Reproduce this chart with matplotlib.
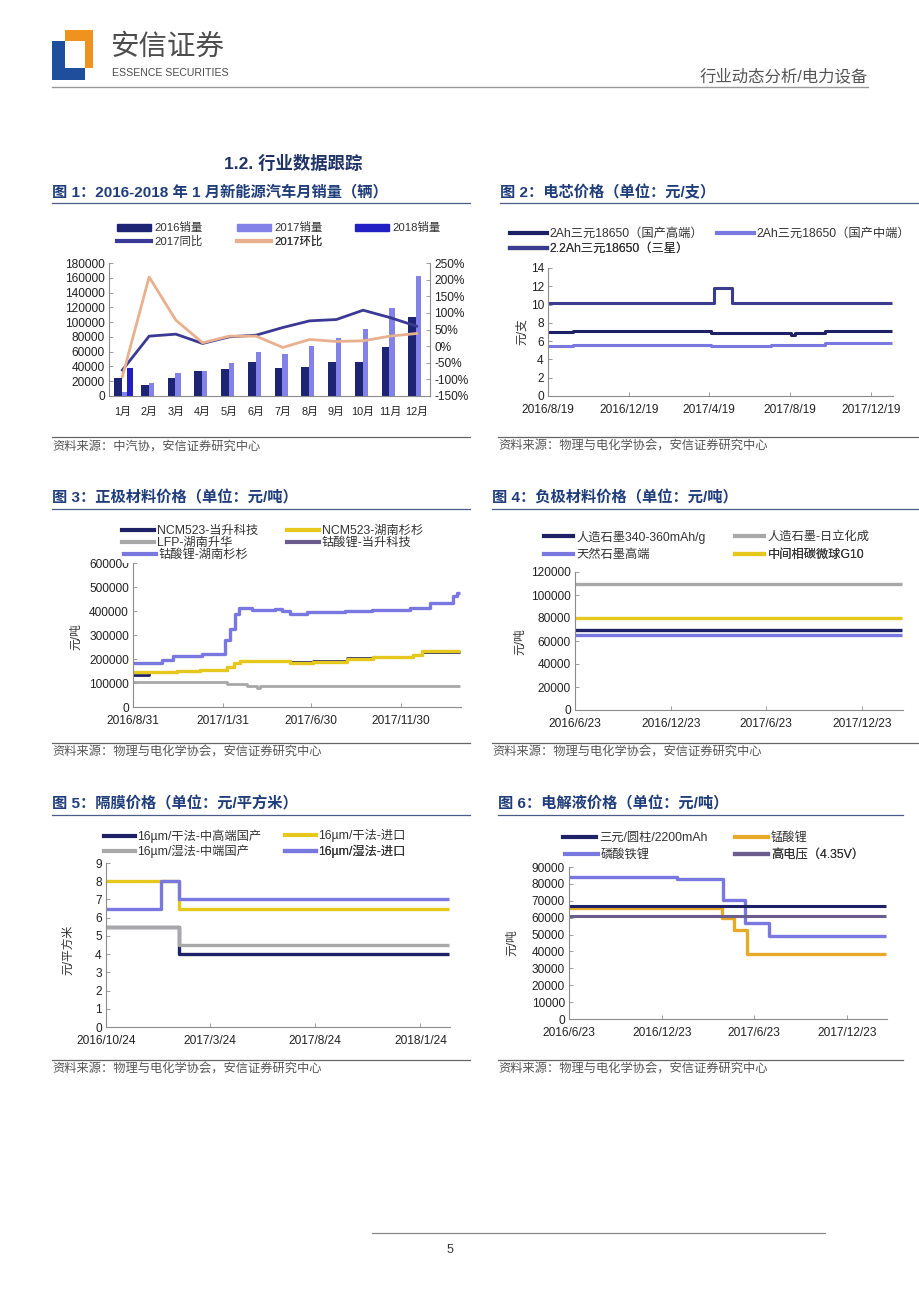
import matplotlib
matplotlib.use("Agg")
import matplotlib.pyplot as plt
import matplotlib.patches as mpatches
from matplotlib.lines import Line2D
import numpy as np
import pandas as pd

plt.rcParams['font.family'] = ['Liberation Sans', 'Noto Sans CJK SC', 'DejaVu Sans']
plt.rcParams['axes.unicode_minus'] = False

W, H = 920, 1302

# ============= data ==================
# 图1 新能源汽车月销量
months = ['1月', '2月', '3月', '4月', '5月', '6月', '7月', '8月', '9月', '10月', '11月', '12月']
sales_2016 = [23800, 14800, 24300, 33300, 36400, 45400, 37300, 39600, 45400, 45400, 66600, 106600]
sales_2017 = [5000, 17500, 31000, 34200, 45000, 59000, 56200, 68000, 78700, 90900, 119200, 162900]
sales_2018 = [38200]
yoy_2017 = [-72, 30, 36, 8, 28, 33, 56, 76, 80, 108, 86, 60]
mom_2017 = [-92, 208, 78, 10, 30, 30, -4, 20, 14, 16, 30, 38]

# 图2 电芯价格
cell_hi_dates = ['2016-08-19', '2016-09-26', '2017-04-22', '2017-08-20', '2017-08-26', '2017-10-11', '2018-01-20']
cell_hi = [6.95, 7.1, 6.88, 6.7, 6.88, 7.1, 7.1]
cell_mid_dates = ['2016-08-19', '2016-09-26', '2017-04-22', '2017-07-21', '2017-10-11', '2018-01-20']
cell_mid = [5.5, 5.6, 5.5, 5.6, 5.8, 5.8]
cell_sam_dates = ['2016-08-19', '2017-04-26', '2017-05-24', '2018-01-20']
cell_sam = [10.2, 11.8, 10.2, 10.2]
cell_ticks = ['2016/8/19', '2016/12/19', '2017/4/19', '2017/8/19', '2017/12/19']

# 图3 正极材料价格
lco_ss_dates = ['2016-08-31', '2016-10-19', '2016-11-07', '2016-12-26', '2017-02-04', '2017-02-12',
                '2017-02-21', '2017-02-28', '2017-03-21', '2017-04-30', '2017-05-11', '2017-05-25',
                '2017-06-23', '2017-08-27', '2017-10-11', '2017-12-15', '2018-01-19', '2018-02-26',
                '2018-03-06', '2018-03-10']
lco_ss = [183000, 197000, 211000, 222000, 281000, 326000, 389000, 414000, 406000, 410000, 400000,
          389000, 396000, 400000, 406000, 414000, 433000, 461000, 475000, 475000]
ncm_ss_dates = ['2016-08-31', '2016-11-14', '2016-12-23', '2017-02-07', '2017-02-18', '2017-03-01',
                '2017-05-25', '2017-07-04', '2017-08-30', '2017-10-14', '2017-12-21', '2018-01-04',
                '2018-03-10']
ncm_ss = [146000, 150000, 156000, 167000, 183000, 192000, 185000, 189000, 201000, 208000, 215000,
          233000, 233000]
ncm_ds_dates = ['2016-08-31', '2016-09-28', '2016-11-14', '2016-12-23', '2017-02-07', '2017-02-18',
                '2017-03-01', '2017-05-25', '2017-07-04', '2017-08-30', '2017-10-14', '2017-12-21',
                '2018-01-04', '2018-03-10']
ncm_ds = [135000, 146000, 150000, 156000, 167000, 183000, 192000, 188000, 191000, 203000, 210000,
          215000, 231000, 231000]
lfp_sh_dates = ['2016-08-31', '2017-02-07', '2017-03-13', '2017-03-30', '2017-04-04', '2018-03-10']
lfp_sh = [104000, 97000, 86000, 80000, 89000, 89000]
cathode_ticks = ['2016/8/31', '2017/1/31', '2017/6/30', '2017/11/30']

# 图4 负极材料价格
anode_dates = ['2016-06-23', '2018-03-10']
anode_art = [70000, 70000]
anode_hitachi = [110000, 110000]
anode_natural = [65000, 65000]
anode_mcmb = [80000, 80000]
anode_ticks = ['2016/6/23', '2016/12/23', '2017/6/23', '2017/12/23']

# 图5 隔膜价格
sep_dates = ['2016-10-24', '2017-02-07', '2018-03-06']
sep_dry_hi = [5.5, 4.0, 4.0]
sep_dry_imp = [8.0, 6.5, 6.5]
sep_wet_mid = [5.5, 4.5, 4.5]
sep_wet_imp_dates = ['2016-10-24', '2017-01-12', '2017-02-07', '2018-03-06']
sep_wet_imp = [6.5, 8.0, 7.0, 7.0]
sep_ticks = ['2016/10/24', '2017/3/24', '2017/8/24', '2018/1/24']

# 图6 电解液价格
ele_flat_dates = ['2016-06-23', '2018-03-10']
ele_ternary = [67000, 67000]
ele_hv = [61000, 61000]
ele_lmo_dates = ['2016-06-23', '2017-04-20', '2017-05-15', '2017-06-08', '2018-03-10']
ele_lmo = [66000, 60000, 52500, 38500, 38500]
ele_lfp_dates = ['2016-06-23', '2017-01-21', '2017-04-23', '2017-06-06', '2017-07-22', '2018-03-10']
ele_lfp = [84000, 83000, 70500, 57000, 49300, 49300]
ele_ticks = ['2016/6/23', '2016/12/23', '2017/6/23', '2017/12/23']

NAVY = '#1d2266'
LPUR = '#7878e0'
MPUR = '#3c3c8e'
YEL = '#e6c81c'
GRAY = '#a8a8a8'
ORG = '#e8a828'
VIOL = '#6a5c8c'
KEYSIZE = 8.8

fig = plt.figure(figsize=(W / 100, H / 100), dpi=100)
page = fig.add_axes([0, 0, 1, 1])
page.set_xlim(0, W)
page.set_ylim(H, 0)
page.axis('off')


def box(x0, y0, x1, y1):
    return [x0 / W, 1 - y1 / H, (x1 - x0) / W, (y1 - y0) / H]


def style(ax):
    for s in ['top', 'right']:
        ax.spines[s].set_visible(False)
    for s in ['left', 'bottom']:
        ax.spines[s].set_color('#8c8c8c')
        ax.spines[s].set_linewidth(0.8)
    ax.tick_params(direction='in', length=3, width=0.6, color='#8c8c8c',
                   labelsize=8.6, labelcolor='#222222', pad=3)
    ax.tick_params(axis='x', pad=6)


def date_axis(ax, ticks, start, end):
    t = pd.to_datetime(ticks, format='%Y/%m/%d')
    ax.set_xticks(t, ticks)
    ax.set_xlim(pd.Timestamp(start), pd.Timestamp(end))


def step(ax, dates, vals, **kw):
    ax.plot(pd.to_datetime(dates), vals, drawstyle='steps-post', solid_capstyle='butt', **kw)


def key(ax, handle, label, x, y, hl, size=KEYSIZE, cover=False):
    lg = ax.legend([handle], [label], loc='center left', bbox_to_anchor=(x / W, 1 - y / H),
                   bbox_transform=fig.transFigure, frameon=cover, fontsize=size,
                   handlelength=hl, handleheight=0.6, handletextpad=0.25,
                   borderpad=0.15 if cover else 0, borderaxespad=0)
    if cover:
        fr = lg.get_frame()
        fr.set_facecolor('white')
        fr.set_edgecolor('none')
        fr.set_alpha(1)
        fr.set_boxstyle('square', pad=0)
    for t in lg.get_texts():
        t.set_color('#333333')
    ax.add_artist(lg)


def ln(c):
    return Line2D([], [], color=c, lw=3)


def caption(x0, x1, y, text):
    page.text(x0, y, text, fontsize=11, fontweight='bold', color='#1f3d7a', va='center')
    page.plot([x0, x1], [y + 11, y + 11], color='#4a5d8a', lw=0.9)


def source(x0, x1, y, text):
    page.plot([x0, x1], [y - 10, y - 10], color='#666666', lw=0.9)
    page.text(x0, y, text, fontsize=8.8, color='#555555', va='center', style='italic')


# ============= page header ==================
page.add_patch(mpatches.Rectangle((52, 41), 33, 39, color='#1f4e9c', lw=0))
page.add_patch(mpatches.Rectangle((65, 30), 28, 38, color='#f0931e', lw=0))
page.add_patch(mpatches.Rectangle((65, 41), 20, 27, color='white', lw=0))
page.text(110, 47, '安信证券', fontsize=20.5, color='#4d4d4d', va='center',
          family=['Noto Sans CJK SC'])
page.text(112, 72.5, 'ESSENCE SECURITIES', fontsize=7.6, color='#4d4d4d', va='center',
          family=['Liberation Sans Narrow', 'Liberation Sans'])
page.text(868, 76, '行业动态分析/电力设备', fontsize=11.8, color='#555555', va='center', ha='right')
page.plot([52, 868], [87, 87], color='#999999', lw=1)

page.text(293, 163, '1.2. 行业数据跟踪', fontsize=12.5, fontweight='bold', color='#1f3366',
          va='center', ha='center')

caption(52, 470, 192, '图 1：2016-2018 年 1 月新能源汽车月销量（辆）')
caption(500, 918, 192, '图 2：电芯价格（单位：元/支）')
caption(52, 470, 498, '图 3：正极材料价格（单位：元/吨）')
caption(492, 918, 498, '图 4：负极材料价格（单位：元/吨）')
caption(52, 470, 804, '图 5：隔膜价格（单位：元/平方米）')
caption(498, 903, 804, '图 6：电解液价格（单位：元/吨）')

source(52, 470, 447, '资料来源：中汽协，安信证券研究中心')
source(498, 918, 447, '资料来源：物理与电化学协会，安信证券研究中心')
source(52, 470, 753, '资料来源：物理与电化学协会，安信证券研究中心')
source(492, 918, 753, '资料来源：物理与电化学协会，安信证券研究中心')
source(52, 470, 1070, '资料来源：物理与电化学协会，安信证券研究中心')
source(498, 903, 1070, '资料来源：物理与电化学协会，安信证券研究中心')

page.plot([372, 825], [1233, 1233], color='#888888', lw=0.9)
page.text(450, 1250, '5', fontsize=9, color='#333333', ha='center', va='center')

# ============= 图1 ==================
ax1 = fig.add_axes(box(109, 263, 430, 396))
x = np.arange(len(months))
ax1.bar(x - 0.16, sales_2016, width=0.3, color='#1c2473')
ax1.bar(x + 0.08, sales_2017, width=0.19, color='#8282e8')
ax1.bar(x[:len(sales_2018)] + 0.3, sales_2018, width=0.22, color='#2020c4')
ax1.set_xlim(-0.5, 11.5)
ax1.set_ylim(0, 180000)
ax1.set_yticks(np.arange(0, 180001, 20000))
style(ax1)
ax1.set_xticks(x, months)
ax1.tick_params(axis='x', length=0, labelsize=7.8, pad=8)
ax1b = ax1.twinx()
ax1b.plot(x, yoy_2017, color='#3a3a96', lw=2)
ax1b.plot(x, mom_2017, color='#e8b08e', lw=2)
ax1b.set_ylim(-150, 250)
ax1b.set_yticks(np.arange(-150, 251, 50))
ax1b.yaxis.set_major_formatter(lambda v, p: f'{v:.0f}%')
for s in ['top', 'left', 'bottom']:
    ax1b.spines[s].set_visible(False)
ax1b.spines['right'].set_color('#8c8c8c')
ax1b.spines['right'].set_linewidth(0.8)
ax1b.tick_params(direction='in', length=3, width=0.6, color='#8c8c8c',
                 labelsize=8.6, labelcolor='#222222', pad=3)
key(ax1b, mpatches.Patch(color='#1c2473'), '2016销量', 117, 228, 3.0, size=8.2)
key(ax1b, mpatches.Patch(color='#8282e8'), '2017销量', 237, 228, 3.0, size=8.2)
key(ax1b, mpatches.Patch(color='#2020c4'), '2018销量', 355, 228, 3.0, size=8.2)
key(ax1b, ln('#3a3a96'), '2017同比', 117, 241, 3.0, size=8.2)
key(ax1b, ln('#e8b08e'), '2017环比', 237, 241, 3.0, size=8.2)

# ============= 图2 ==================
ax2 = fig.add_axes(box(548, 268, 893, 396))
step(ax2, cell_hi_dates, cell_hi, color=NAVY, lw=2.2)
step(ax2, cell_mid_dates, cell_mid, color=LPUR, lw=2.2)
step(ax2, cell_sam_dates, cell_sam, color=MPUR, lw=2.2)
ax2.set_ylim(0, 14)
ax2.set_yticks(np.arange(0, 15, 2))
date_axis(ax2, cell_ticks, '2016-08-19', '2018-01-21')
style(ax2)
page.text(522, 332, '元/支', rotation=90, fontsize=8.5, color='#333333', ha='center', va='center')
key(ax2, ln(NAVY), '2Ah三元18650（国产高端）', 510, 234, 3.0)
key(ax2, ln(LPUR), '2Ah三元18650（国产中端）', 717, 234, 3.0)
key(ax2, ln(MPUR), '2.2Ah三元18650（三星）', 510, 249, 3.0)

# ============= 图3 ==================
ax3 = fig.add_axes(box(133, 563, 461, 707))
step(ax3, lfp_sh_dates, lfp_sh, color=GRAY, lw=2)
step(ax3, ncm_ds_dates, ncm_ds, color=NAVY, lw=2)
step(ax3, ncm_ss_dates, ncm_ss, color=YEL, lw=2.4)
step(ax3, lco_ss_dates, lco_ss, color=LPUR, lw=2.4)
ax3.set_ylim(0, 600000)
ax3.set_yticks(np.arange(0, 600001, 100000))
date_axis(ax3, cathode_ticks, '2016-08-31', '2018-03-12')
style(ax3)
page.text(76, 637, '元/吨', rotation=90, fontsize=8.5, color='#333333', ha='center', va='center')
key(ax3, ln(NAVY), 'NCM523-当升科技', 122, 531, 2.6)
key(ax3, ln(YEL), 'NCM523-湖南杉杉', 287, 531, 2.6)
key(ax3, ln(GRAY), 'LFP-湖南升华', 122, 543, 2.6)
key(ax3, ln(VIOL), '钴酸锂-当升科技', 287, 543, 2.6)
key(ax3, ln(LPUR), '钴酸锂-湖南杉杉', 122, 555, 2.6, cover=True)

# ============= 图4 ==================
ax4 = fig.add_axes(box(575, 572, 903, 710))
step(ax4, anode_dates, anode_hitachi, color=GRAY, lw=2.4)
step(ax4, anode_dates, anode_mcmb, color=YEL, lw=2.4)
step(ax4, anode_dates, anode_art, color=NAVY, lw=2.4)
step(ax4, anode_dates, anode_natural, color=LPUR, lw=2.4)
ax4.set_ylim(0, 120000)
ax4.set_yticks(np.arange(0, 120001, 20000))
date_axis(ax4, anode_ticks, '2016-06-23', '2018-03-11')
style(ax4)
page.text(520, 642, '元/吨', rotation=90, fontsize=8.5, color='#333333', ha='center', va='center')
key(ax4, ln(NAVY), '人造石墨340-360mAh/g', 544, 537, 2.4)
key(ax4, ln(GRAY), '人造石墨-日立化成', 735, 537, 2.4)
key(ax4, ln(LPUR), '天然石墨高端', 544, 555, 2.4)
key(ax4, ln(YEL), '中间相碳微球G10', 735, 555, 2.4)

# ============= 图5 ==================
ax5 = fig.add_axes(box(106, 863, 450, 1027))
step(ax5, sep_dates, sep_dry_hi, color=NAVY, lw=2.4)
step(ax5, sep_dates, sep_dry_imp, color=YEL, lw=2.4)
step(ax5, sep_dates, sep_wet_mid, color=GRAY, lw=2.4)
step(ax5, sep_wet_imp_dates, sep_wet_imp, color=LPUR, lw=2.4)
ax5.set_ylim(0, 9)
ax5.set_yticks(np.arange(0, 10, 1))
date_axis(ax5, sep_ticks, '2016-10-24', '2018-03-08')
style(ax5)
page.text(68, 950, '元/平方米', rotation=90, fontsize=8.5, color='#333333', ha='center', va='center')
key(ax5, ln(NAVY), '16µm/干法-中高端国产', 104, 836, 2.5)
key(ax5, ln(YEL), '16µm/干法-进口', 285, 836, 2.5)
key(ax5, ln(GRAY), '16µm/湿法-中端国产', 104, 851, 2.5)
key(ax5, ln(LPUR), '16µm/湿法-进口', 285, 851, 2.5)

# ============= 图6 ==================
ax6 = fig.add_axes(box(569, 867, 887, 1019))
step(ax6, ele_lmo_dates, ele_lmo, color=ORG, lw=2.4)
step(ax6, ele_lfp_dates, ele_lfp, color=LPUR, lw=2.4)
step(ax6, ele_flat_dates, ele_ternary, color=NAVY, lw=2.2)
step(ax6, ele_flat_dates, ele_hv, color=VIOL, lw=2.2)
ax6.set_ylim(0, 90000)
ax6.set_yticks(np.arange(0, 90001, 10000))
date_axis(ax6, ele_ticks, '2016-06-23', '2018-03-12')
style(ax6)
page.text(512, 943, '元/吨', rotation=90, fontsize=8.5, color='#333333', ha='center', va='center')
key(ax6, ln(NAVY), '三元/圆柱/2200mAh', 563, 838, 2.7)
key(ax6, ln(ORG), '锰酸锂', 735, 838, 2.7)
key(ax6, ln(LPUR), '磷酸铁锂', 563, 855, 2.7, cover=True)
key(ax6, ln(VIOL), '高电压（4.35V）', 735, 855, 2.7)

plt.savefig('out.png', dpi=100)
